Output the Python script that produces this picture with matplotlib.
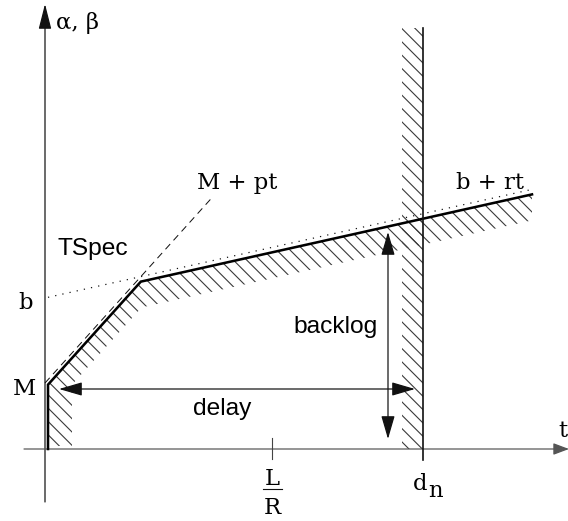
import numpy as np
import matplotlib
matplotlib.use("Agg")
import matplotlib.pyplot as plt
from matplotlib.patches import FancyArrowPatch, ArrowStyle

# --- TSpec (arrival envelope) parameters --------------------------------
M = 6.6          # maximum packet size (intercept of the peak-rate line)
p = 1.11         # peak rate
b = 15.1         # bucket depth
r = 0.223        # token rate
t_start = 0.3    # curve drawn just right of the vertical axis
t_end = 48.7     # right end of the b + rt segment
t_dash_end = 16.7
gap = 0.5        # solid envelope sits just under the TSpec lines

# --- time marks ----------------------------------------------------------
d_n = 37.8
L_over_R = 22.7
tick_positions = [L_over_R, d_n]

# --- hatched regions -----------------------------------------------------
band_w = 2.4     # width of hatched strip along the vertical part
band_h = 2.6     # thickness of hatched strip along the b + rt part
hatch_floor = 0.3
dn_band_w = 2.1
dn_top = 42.1

# --- delay / backlog arrows ----------------------------------------------
delay_y = 6.0
delay_span = [1.4, 37.0]
backlog_x = 34.3
backlog_span = [1.0, 21.7]

SERIF = "DejaVu Serif"
SANS = "Liberation Sans"


def envelope(t):
    return np.minimum(M + p * t, b + r * t) - gap


def inner(t):
    return np.minimum(M + p * (t - band_w), b + r * t - band_h) - gap


fig = plt.figure(figsize=(7.1, 6.5125), dpi=80)
ax = fig.add_axes([0, 0, 1, 1])
ax.set_xlim(-4.5, 52.3)
ax.set_ylim(-7.2, 44.9)
ax.axis("off")

# axes with arrow heads
ax.add_patch(FancyArrowPatch((0, -5.3), (0, 44.5),
                             arrowstyle=ArrowStyle("-|>", head_length=1.3, head_width=0.33),
                             mutation_scale=15, lw=1.1, color="#111",
                             shrinkA=0, shrinkB=0, zorder=3))
ax.add_patch(FancyArrowPatch((-2.1, 0), (52.4, 0),
                             arrowstyle=ArrowStyle("-|>", head_length=0.8, head_width=0.3),
                             mutation_scale=15, lw=1.1, color="#555",
                             shrinkA=0, shrinkB=0, zorder=3))

# knee points of the envelope and of the inner hatch boundary
tk = (b - M) / (p - r)
yk = envelope(tk)
tki = (b - band_h - M + p * band_w) / (p - r)
yki = inner(tki)

# hatched region under the envelope
xs = [t_start, t_start, tk, t_end, t_end, tki, t_start + band_w, t_start + band_w]
ys = [hatch_floor, envelope(t_start), yk, envelope(t_end),
      envelope(t_end) - band_h, yki, inner(t_start + band_w), hatch_floor]
ax.fill(xs, ys, facecolor="none", edgecolor="#3a3a3a", hatch="\\\\", linewidth=0, zorder=1)

# hatched band left of d_n
ax.fill([d_n - dn_band_w, d_n, d_n, d_n - dn_band_w], [0, 0, dn_top, dn_top],
        facecolor="none", edgecolor="#3a3a3a", hatch="\\\\", linewidth=0, zorder=1)

# TSpec lines
td = np.array([0.0, t_dash_end])
ax.plot(td, M + p * td, color="#111", lw=0.9, dashes=(7, 5), zorder=2)
tr = np.array([t_start, t_end])
ax.plot(tr, b + r * tr, color="#111", lw=1.1, dashes=(1, 5), zorder=2)

# solid envelope
ax.plot([t_start, t_start, tk, t_end],
        [0, envelope(t_start), yk, envelope(t_end)],
        color="black", lw=2.3, solid_joinstyle="miter", zorder=4)

# d_n deadline line and L/R tick
ax.plot([d_n, d_n], [-1.1, dn_top], color="#111", lw=1.5, zorder=4)
ax.plot([L_over_R, L_over_R], [-1.0, 1.1], color="#444", lw=1.0, zorder=4)

# delay and backlog arrows
arrow_style = ArrowStyle("<|-|>", head_length=1.2, head_width=0.35)
ax.add_patch(FancyArrowPatch((delay_span[0], delay_y), (delay_span[1], delay_y),
                             arrowstyle=arrow_style, mutation_scale=15, lw=1.1,
                             color="#111", shrinkA=0, shrinkB=0, zorder=5))
ax.add_patch(FancyArrowPatch((backlog_x, backlog_span[0]), (backlog_x, backlog_span[1]),
                             arrowstyle=arrow_style, mutation_scale=15, lw=1.1,
                             color="#111", shrinkA=0, shrinkB=0, zorder=5))

# labels
serif_size = 20.5
sans_size = 22
ax.text(1.1, 42.0, "α, β", family=SERIF, fontsize=serif_size, va="baseline", ha="left")
ax.text(15.2, 26.0, "M + pt", family=SERIF, fontsize=serif_size, va="baseline", ha="left")
ax.text(41.1, 26.0, "b + rt", family=SERIF, fontsize=serif_size, va="baseline", ha="left")
ax.text(-1.2, 14.0, "b", family=SERIF, fontsize=serif_size, va="baseline", ha="right")
ax.text(-0.9, 5.4, "M", family=SERIF, fontsize=serif_size, va="baseline", ha="right")
ax.text(1.2, 19.4, "TSpec", family=SANS, fontsize=sans_size, va="baseline", ha="left")
ax.text(24.8, 11.6, "backlog", family=SANS, fontsize=sans_size, va="baseline", ha="left")
ax.text(14.8, 3.4, "delay", family=SANS, fontsize=sans_size, va="baseline", ha="left")
ax.text(51.35, 1.2, "t", family=SERIF, fontsize=serif_size, va="baseline", ha="left")

# L/R as a stacked fraction under its tick
ax.text(L_over_R, -3.6, "L", family=SERIF, fontsize=serif_size, va="baseline", ha="center")
ax.plot([L_over_R - 0.95, L_over_R + 0.95], [-4.0, -4.0], color="#111", lw=1.0)
ax.text(L_over_R, -6.5, "R", family=SERIF, fontsize=serif_size, va="baseline", ha="center")

# d_n with a large subscript
ax.text(d_n - 1.0, -4.1, "d", family=SERIF, fontsize=serif_size, va="baseline", ha="left")
ax.text(d_n + 0.5, -4.8, "n", family=SERIF, fontsize=serif_size, va="baseline", ha="left")

fig.savefig("out.png", dpi=80)
